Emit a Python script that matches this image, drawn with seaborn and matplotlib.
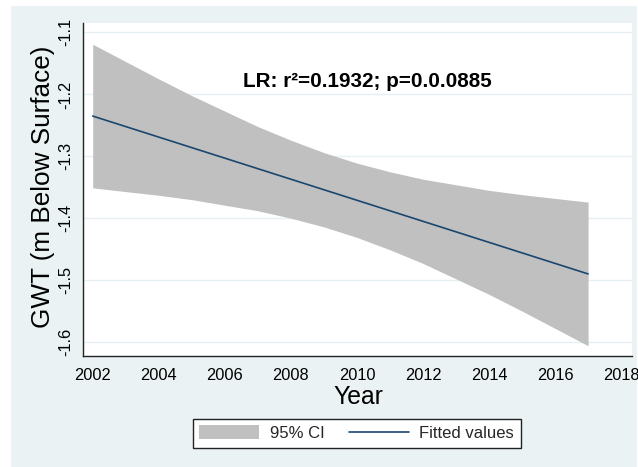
import matplotlib
matplotlib.use("Agg")
import matplotlib.pyplot as plt
from matplotlib.patches import Rectangle
import seaborn as sns

# ---- data ----
years = [2002, 2003, 2004, 2005, 2006, 2007, 2008, 2009,
         2010, 2011, 2012, 2013, 2014, 2015, 2016, 2017]
fitted = [-1.235, -1.252, -1.269, -1.286, -1.303, -1.320, -1.337, -1.354,
          -1.371, -1.388, -1.405, -1.422, -1.439, -1.456, -1.473, -1.490]
ci_upper = [-1.119, -1.147, -1.175, -1.202, -1.227, -1.252, -1.274, -1.294,
            -1.311, -1.325, -1.337, -1.346, -1.355, -1.362, -1.368, -1.374]
ci_lower = [-1.351, -1.357, -1.363, -1.370, -1.379, -1.388, -1.400, -1.414,
            -1.431, -1.451, -1.473, -1.498, -1.523, -1.550, -1.578, -1.606]
x_ticks = [2002, 2004, 2006, 2008, 2010, 2012, 2014, 2016, 2018]
y_ticks = [-1.6, -1.5, -1.4, -1.3, -1.2, -1.1]
annotation = "LR: r\u00b2=0.1932; p=0.0.0885"

sns.set_style("white")
plt.rcParams['font.family'] = ['Liberation Sans', 'DejaVu Sans']

W, H = 638, 467
fig = plt.figure(figsize=(W / 100, H / 100), dpi=100)
fig.patch.set_facecolor('white')
fig.add_artist(Rectangle((11 / W, 0), 626 / W, 461 / H, transform=fig.transFigure,
                         facecolor='#EAF2F3', edgecolor='none', zorder=0))

ax = fig.add_axes([82.7 / W, (H - 355.7) / H, (632 - 82.7) / W, (355.7 - 22.7) / H])
ax.set_facecolor('white')

ax.fill_between(years, ci_lower, ci_upper, color='#C0C0C0', lw=0, label='95% CI', zorder=2)
sns.lineplot(x=years, y=fitted, ax=ax, color='#1A476F', lw=1.2, label='Fitted values', zorder=3)

ax.set_xlim(2001.697, 2018.33)
ax.set_ylim(-1.6221, -1.0842)
ax.set_xticks(x_ticks)
ax.set_yticks(y_ticks)
ax.set_xticklabels([str(v) for v in x_ticks])
ax.set_yticklabels([f"{v:.1f}" for v in y_ticks])

ax.grid(axis='y', color='#E6EFF1', lw=1.0)
ax.grid(axis='x', visible=False)
ax.set_axisbelow(True)

for s in ['top', 'right']:
    ax.spines[s].set_visible(False)
for s in ['left', 'bottom']:
    ax.spines[s].set_color('#222222')
    ax.spines[s].set_linewidth(1.0)

ax.tick_params(axis='both', direction='out', length=4.6, width=0.9, color='#222222',
               labelsize=11.8, labelcolor='black')
ax.tick_params(axis='x', pad=4)
ax.tick_params(axis='y', pad=2, labelrotation=90)
for lab in ax.get_yticklabels():
    lab.set_va('center')

ax.set_xlabel('Year', fontsize=17.8, color='black')
ax.xaxis.label.set_va('baseline')
ax.xaxis.set_label_coords(0.502, -0.146)
ax.set_ylabel('GWT (m Below Surface)', fontsize=18.8, color='black')
ax.yaxis.label.set_va('baseline')
ax.yaxis.set_label_coords(-0.059, 0.508)

ax.text(2006.56, -1.1876, annotation, fontsize=14.9, fontweight='bold',
        ha='left', va='baseline', color='black')

handles, labels = ax.get_legend_handles_labels()
leg = ax.legend(handles, labels, ncol=2, loc='center',
                bbox_to_anchor=(356.7 / W, (H - 433.3) / H), bbox_transform=fig.transFigure,
                fontsize=12, frameon=True, fancybox=False, framealpha=1,
                facecolor='white', edgecolor='#222222', handlelength=3.6,
                handleheight=0.9, handletextpad=0.64, columnspacing=1.44,
                borderpad=0.4)
leg.get_frame().set_linewidth(1.0)

fig.savefig('out.png', dpi=100)
